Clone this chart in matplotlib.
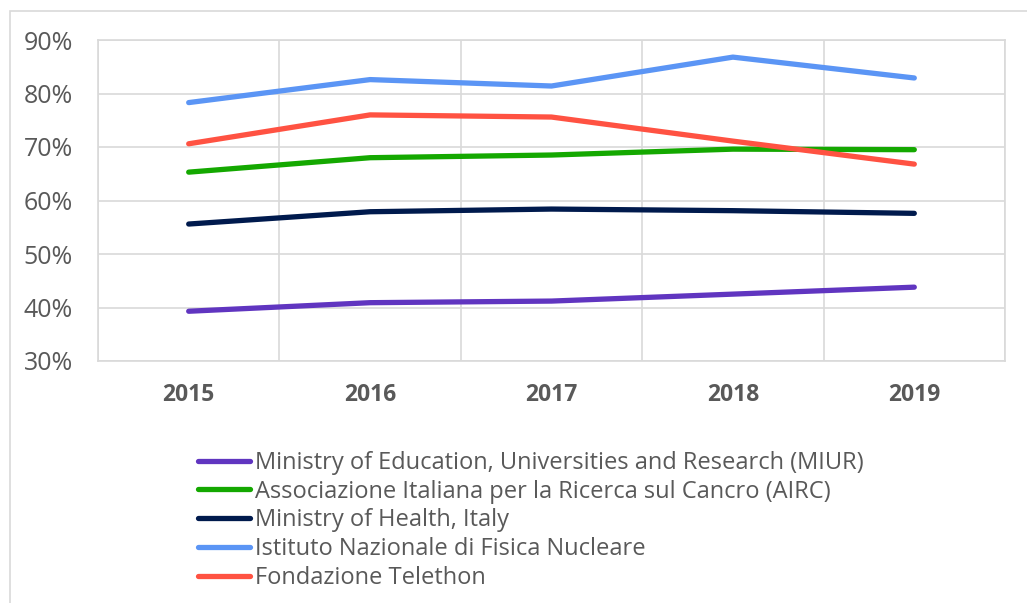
import matplotlib.pyplot as plt
from matplotlib.patches import Rectangle
from matplotlib.ticker import FixedLocator, PercentFormatter

plt.rcParams['font.family'] = ['Open Sans', 'DejaVu Sans']

years = ['2015', '2016', '2017', '2018', '2019']
series_names = [
    'Ministry of Education, Universities and Research (MIUR)',
    'Associazione Italiana per la Ricerca sul Cancro (AIRC)',
    'Ministry of Health, Italy',
    'Istituto Nazionale di Fisica Nucleare',
    'Fondazione Telethon',
]
miur = [39.3, 40.9, 41.2, 42.5, 43.8]
airc = [65.3, 68.0, 68.5, 69.6, 69.5]
health = [55.6, 57.9, 58.4, 58.1, 57.6]
infn = [78.3, 82.6, 81.4, 86.8, 82.9]
telethon = [70.6, 76.0, 75.6, 71.1, 66.8]
colors = ['#6035c0', '#14a800', '#001a4d', '#5b95f5', '#ff5242']

grid_c = '#d9d9d9'
text_c = '#595959'

fig = plt.figure(figsize=(10.27, 6.03), dpi=100)
ax = fig.add_axes([98/1027, 1-361/603, (1005-98)/1027, (361-40)/603])

# outer chart border (cropped at right and bottom)
fig.patches.append(Rectangle((10/1027, -0.1), 1.2, 1.1 - 11/603, transform=fig.transFigure,
                             fill=False, edgecolor=grid_c, linewidth=1.2))

x = list(range(len(years)))
for vals, name, c in zip([miur, airc, health, infn, telethon], series_names, colors):
    ax.plot(x, vals, color=c, linewidth=3.8, solid_capstyle='round', label=name)

ax.set_xlim(-0.5, 4.5)
ax.set_ylim(30, 90)
ax.set_yticks(range(30, 91, 10))
ax.yaxis.set_major_formatter(PercentFormatter(decimals=0))
ax.set_xticks(x)
ax.set_xticklabels(years, fontweight='bold')
ax.xaxis.set_minor_locator(FixedLocator([i - 0.5 for i in range(6)]))
ax.grid(True, axis='y', which='major', color=grid_c, linewidth=1.2)
ax.grid(True, axis='x', which='minor', color=grid_c, linewidth=1.2)
ax.set_axisbelow(True)
ax.tick_params(which='both', length=0)
ax.tick_params(axis='y', labelsize=18, labelcolor=text_c, pad=18)
ax.tick_params(axis='x', labelsize=16.5, labelcolor=text_c, pad=16)
for s in ax.spines.values():
    s.set_color(grid_c)
    s.set_linewidth(1.2)

fig.legend(loc='upper left', bbox_to_anchor=(198/1027, 1-451/603), frameon=False,
           fontsize=17, handlelength=2.2, handletextpad=0.2, labelspacing=0.2,
           labelcolor=text_c, borderaxespad=0, borderpad=0)

fig.savefig('out.png', dpi=100, facecolor='w')
